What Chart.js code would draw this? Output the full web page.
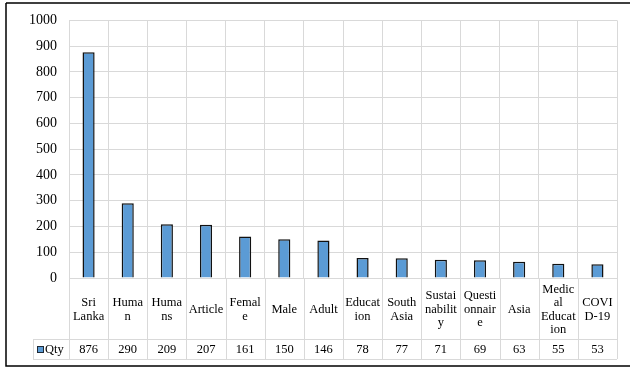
<!DOCTYPE html>
<html>
<head>
<meta charset="utf-8">
<script src="https://cdn.jsdelivr.net/npm/chart.js@4.4.1/dist/chart.umd.min.js"></script>
<style>
  html, body { margin: 0; padding: 0; background: #fff; }
  #wrap { width: 630px; height: 367px; position: relative; }
</style>
</head>
<body>
<div id="wrap"><canvas id="grafico" width="630" height="367"></canvas></div>
<script>
const categorias = [
  ['Sri', 'Lanka'], ['Huma', 'n'], ['Huma', 'ns'], ['Article'], ['Femal', 'e'],
  ['Male'], ['Adult'], ['Educat', 'ion'], ['South', 'Asia'], ['Sustai', 'nabilit', 'y'],
  ['Questi', 'onnair', 'e'], ['Asia'], ['Medic', 'al', 'Educat', 'ion'], ['COVI', 'D-19']
];
const qty = [876, 290, 209, 207, 161, 150, 146, 78, 77, 71, 69, 63, 55, 53];
const serieNome = 'Qty';
const yTicks = [0, 100, 200, 300, 400, 500, 600, 700, 800, 900, 1000];

const corGrade = '#d9d9d9';
const fonte = '"Liberation Serif", "Times New Roman", serif';

// desenha a tabela de dados embaixo do gráfico + moldura
const tabelaPlugin = {
  id: 'tabela',
  afterDraw(chart) {
    const ctx = chart.ctx;
    const x = chart.scales.x;
    const area = chart.chartArea;
    const largura = (x.right - x.left) / categorias.length;
    const topo = area.bottom;
    const linhaQty = 339;
    const fundo = 359;
    const esquerda = 33;

    ctx.save();
    ctx.strokeStyle = corGrade;
    ctx.lineWidth = 1;
    ctx.beginPath();
    for (let i = 0; i <= categorias.length; i++) {
      const px = Math.round(x.left + i * largura) + 0.5;
      ctx.moveTo(px, topo);
      ctx.lineTo(px, fundo);
    }
    ctx.moveTo(esquerda + 0.5, linhaQty);
    ctx.lineTo(esquerda + 0.5, fundo);
    ctx.moveTo(esquerda, linhaQty + 0.5);
    ctx.lineTo(x.right, linhaQty + 0.5);
    ctx.moveTo(esquerda, fundo + 0.5);
    ctx.lineTo(x.right, fundo + 0.5);
    ctx.stroke();

    ctx.fillStyle = '#000';
    ctx.font = '12.5px ' + fonte;
    ctx.textAlign = 'center';
    ctx.textBaseline = 'middle';
    const alturaLinha = 13.5;
    const centroRotulo = (topo + linhaQty) / 2 + 1;
    categorias.forEach((linhas, i) => {
      const cx = x.getPixelForValue(i);
      const y0 = centroRotulo - (linhas.length - 1) * alturaLinha / 2;
      linhas.forEach((t, j) => ctx.fillText(t, cx, y0 + j * alturaLinha));
      ctx.fillText(String(qty[i]), cx, (linhaQty + fundo) / 2 + 0.5);
    });

    // legenda da série
    ctx.fillStyle = '#5b9bd5';
    ctx.fillRect(37, 346, 7, 7);
    ctx.strokeStyle = '#1f2a36';
    ctx.strokeRect(37.5, 346.5, 6, 6);
    ctx.fillStyle = '#000';
    ctx.textAlign = 'left';
    ctx.fillText(serieNome, 45, 350);

    // moldura
    ctx.strokeStyle = '#000';
    ctx.lineWidth = 1.5;
    ctx.beginPath();
    ctx.moveTo(6, 3);
    ctx.lineTo(630, 3);
    ctx.moveTo(6, 3);
    ctx.lineTo(6, 366);
    ctx.lineTo(630, 366);
    ctx.stroke();
    ctx.restore();
  }
};

const graficoCtx = document.getElementById('grafico').getContext('2d');
const grafico = new Chart(graficoCtx, {
  type: 'bar',
  data: {
    labels: categorias,
    datasets: [{
      label: serieNome,
      data: qty,
      backgroundColor: '#5b9bd5',
      borderColor: '#111',
      borderWidth: 1.5,
      barPercentage: 0.31,
      categoryPercentage: 1
    }]
  },
  options: {
    responsive: false,
    animation: false,
    layout: { padding: { left: 0, top: 20, right: 13, bottom: 89 } },
    plugins: {
      legend: { display: false },
      tooltip: { enabled: false }
    },
    scales: {
      x: {
        grid: { offset: true, color: corGrade, drawTicks: false },
        border: { display: false },
        ticks: { display: false },
        afterFit: s => { s.height = 0; }
      },
      y: {
        min: 0,
        max: 1000,
        afterBuildTicks: s => { s.ticks = yTicks.map(v => ({ value: v })); },
        grid: { color: corGrade, drawTicks: false },
        border: { display: false },
        ticks: {
          padding: 12,
          color: '#000',
          font: { family: fonte, size: 14 },
          callback: v => String(v)
        },
        afterFit: s => { s.width = 69; }
      }
    }
  },
  plugins: [tabelaPlugin]
});
</script>
</body>
</html>
